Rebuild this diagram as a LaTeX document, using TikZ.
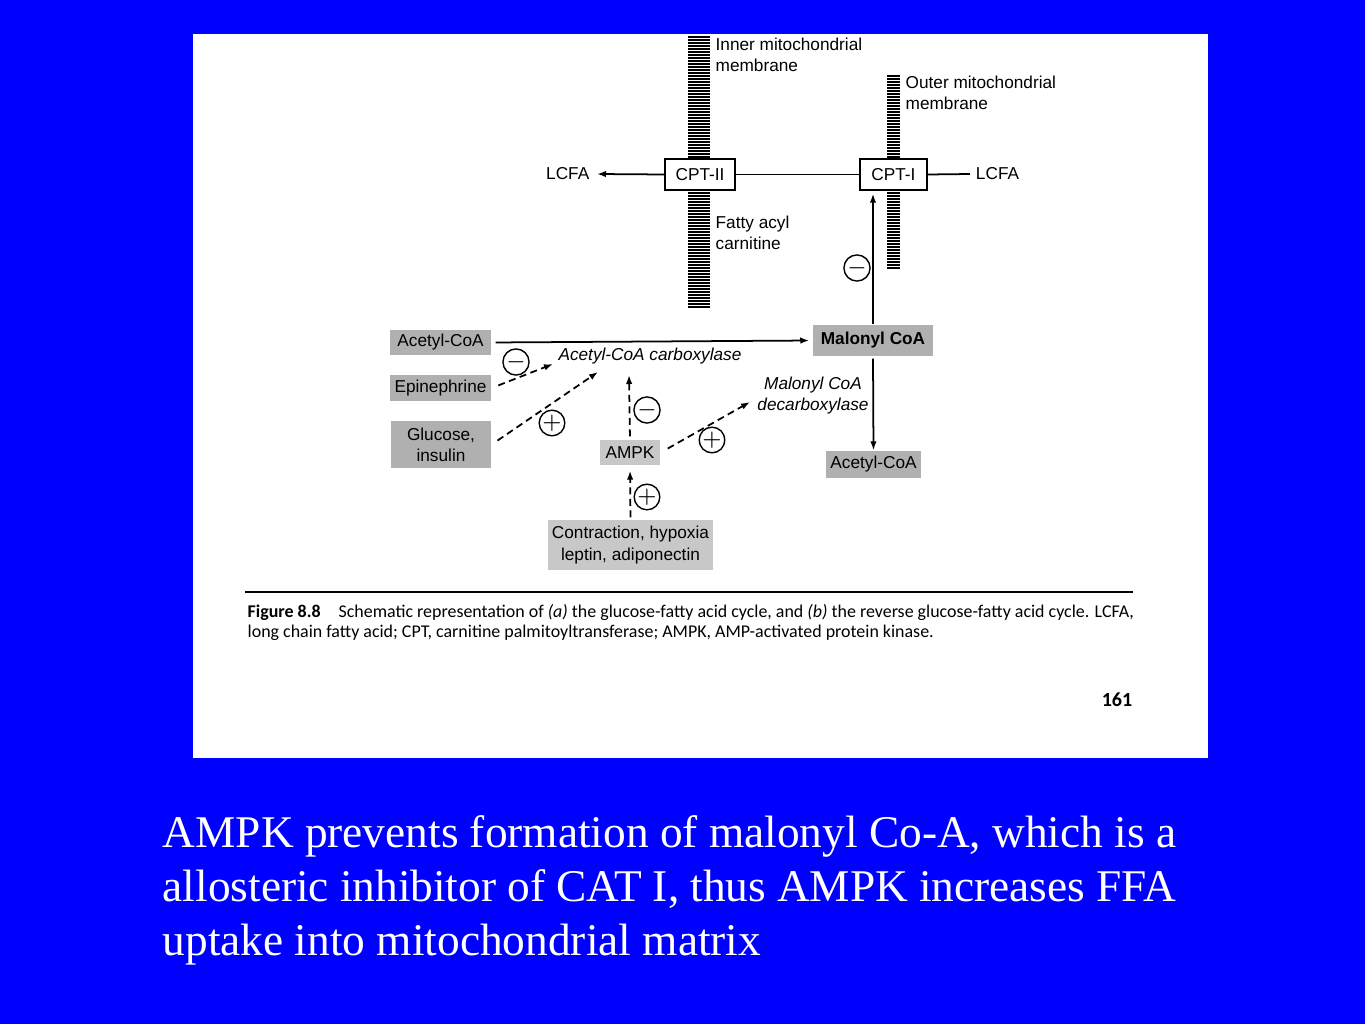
\documentclass[tikz,border=0pt]{standalone}
\usepackage{fontspec}
\setmainfont{Liberation Serif}
\setsansfont{Liberation Sans}
\newfontfamily\capfont{Carlito}
\usetikzlibrary{arrows.meta}
\definecolor{SlideBlue}{RGB}{0,0,255}
\definecolor{BoxGray}{RGB}{176,176,176}
\definecolor{BoxLight}{RGB}{200,200,200}
\newcommand{\dfont}{\sffamily\fontsize{4.9}{6}\selectfont}
\newcommand{\fullline}[1]{\makebox[10.13cm][s]{#1}}

\begin{document}
\begin{tikzpicture}[x=0.01cm, y=-0.01cm,
          enz/.style={rectangle, draw=black, fill=white, line width=0.4pt,
                      minimum height=0.31cm, inner sep=0pt, font=\dfont},
          pbox/.style={rectangle, fill=BoxGray, inner sep=0pt, align=center,
                       font=\dfont},
          lbl/.style={inner sep=0pt, align=left, font=\dfont},
          sgn/.style={circle, draw=black, line width=0.4pt, minimum size=0.17cm,
                      inner sep=0pt, font=\fontsize{6}{6}\selectfont},
          stripe/.style={line width=0.5pt},
          arr/.style={-{Latex[length=0.09cm, width=0.065cm]}, line width=0.5pt},
          darr/.style={arr, dash pattern=on 0.07cm off 0.045cm}
        ]
        % slide and page
        \fill[SlideBlue] (0,0) rectangle (1365,1024);
        \fill[white] (193,34) rectangle (1208,758);

        % membranes
        \foreach \yy in {37,40,...,307} \draw[stripe] (688,\yy) -- (710,\yy);
        \foreach \yy in {76,79,...,270} \draw[stripe] (887,\yy) -- (900,\yy);
        \node[lbl, anchor=north west] (inmem)  at (715,37)
              {Inner mitochondrial\\membrane};
        \node[lbl, anchor=north west] (outmem) at (905,75)
              {Outer mitochondrial\\membrane};
        \node[lbl, anchor=north west] (facyl)  at (715,215)
              {Fatty acyl\\carnitine};

        % transferases
        \node[enz, minimum width=0.70cm] (cpt2) at (700,174.5) {CPT-II};
        \node[enz, minimum width=0.67cm] (cpt1) at (893.5,174.5) {CPT-I};
        \node[lbl, inner sep=2pt, anchor=east] (lcfaL) at (597,174) {LCFA};
        \node[lbl, inner sep=1.5pt, anchor=west] (lcfaR) at (970,174) {LCFA};

        % metabolites and effectors
        \node[pbox, minimum width=1.01cm, minimum height=0.25cm] (acoa)
              at (440.5,342.5) {Acetyl-CoA};
        \node[pbox, minimum width=1.01cm, minimum height=0.26cm] (epi)
              at (440.5,388) {Epinephrine};
        \node[pbox, minimum width=1.00cm, minimum height=0.47cm] (gluc)
              at (441,444.5) {Glucose,\\insulin};
        \node[pbox, fill=BoxLight, minimum width=0.60cm, minimum height=0.25cm] (ampk)
              at (630,452.5) {AMPK};
        \node[pbox, fill=BoxLight, minimum width=1.65cm, minimum height=0.50cm] (contr)
              at (630.5,545) {Contraction, hypoxia\\leptin, adiponectin};
        \node[pbox, minimum width=1.20cm, minimum height=0.31cm] (mal)
              at (873,340.5) {\bfseries Malonyl CoA};
        \node[pbox, minimum width=0.95cm, minimum height=0.27cm] (acoa2)
              at (873.5,464.5) {Acetyl-CoA};

        % enzymes
        \node[lbl] (acc) at (650,356) {\itshape Acetyl-CoA carboxylase};
        \node[lbl, align=center] (mcd) at (813,395.5)
              {\itshape Malonyl CoA\\\itshape decarboxylase};
        \coordinate (accL) at (553,364);
        \coordinate (accM) at (598,372);
        \coordinate (accB) at (629,375);
        \coordinate (mcdL) at (750,402);

        % signs
        \node[sgn] (s1) at (857,268) {$-$};
        \node[sgn] (s2) at (516,362) {$-$};
        \node[sgn] (s3) at (552,423) {$+$};
        \node[sgn] (s4) at (647,410) {$-$};
        \node[sgn] (s5) at (712,440) {$+$};
        \node[sgn] (s6) at (647,497) {$+$};

        % connectors
        \draw[line width=0.5pt] (cpt2.east) -- (cpt1.west);
        \draw[line width=0.5pt] (cpt1.east) -- (lcfaR.west);
        \draw[arr] (cpt2.west) -- (lcfaL.east);
        \draw[arr, shorten <=0.04cm, shorten >=0.03cm] (acoa.east) -- (mal.west);
        \draw[arr, shorten <=0.02cm] (mal.south) -- (acoa2.north);
        \draw[arr, shorten >=0.03cm] (mal.north) -- (mal.north |- cpt1.south);
        \draw[darr, shorten <=0.07cm] (epi.east) -- (accL);
        \draw[darr, shorten <=0.07cm] (gluc.east) -- (accM);
        \draw[darr, shorten <=0.03cm] (ampk.north) -- (accB);
        \draw[darr, shorten <=0.08cm] (ampk.east) -- (mcdL);
        \draw[darr, shorten <=0.02cm, shorten >=0.05cm] (contr.north) -- (ampk.south);

        % caption
        \draw[line width=0.6pt] (245,592) -- (1133,592);
        \node[inner sep=0pt, anchor=north west, align=left,
              font=\capfont\fontsize{5.1}{5.7}\selectfont] (cap) at (247,604)
              {\textbf{Figure 8.8}\quad Schematic representation of \textit{(a)} the glucose-fatty acid cycle, and \textit{(b)} the reverse glucose-fatty acid cycle. LCFA,\\
               long chain fatty acid; CPT, carnitine palmitoyltransferase; AMPK, AMP-activated protein kinase.};
        \node[inner sep=0pt, anchor=east, font=\capfont\bfseries\fontsize{5.7}{6}\selectfont]
              (pg) at (1133,700) {161};

        % slide text
        \node[inner sep=0pt, anchor=north west, align=left,
              text=white, font=\fontsize{12.9}{15.4}\selectfont] (note) at (162,815)
              {\fullline{AMPK prevents formation of malonyl Co-A, which is a}\\
               \fullline{allosteric inhibitor of CAT I, thus AMPK increases FFA}\\
               uptake into mitochondrial matrix};
\end{tikzpicture}
\end{document}
